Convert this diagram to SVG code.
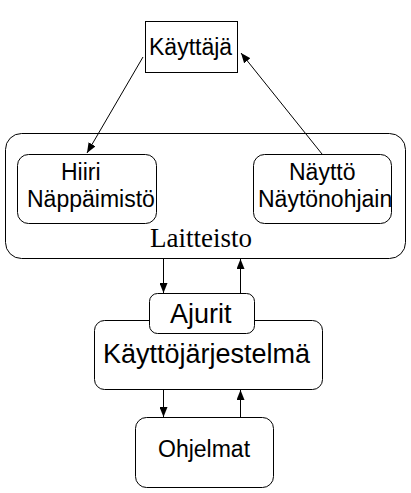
<svg xmlns="http://www.w3.org/2000/svg" width="411" height="493" viewBox="0 0 411 493">
<defs>
<style>
.box{fill:#fff;stroke:#000;stroke-width:1}
.t{font-family:"Liberation Sans",Arial,sans-serif;font-size:23px;fill:#000}
.big{font-size:27px}
.serif{font-family:"Liberation Serif","Times New Roman",serif;font-size:27px;fill:#000}
.edge{stroke:#000;stroke-width:1;fill:none;marker-end:url(#ah)}
</style>
<marker id="ah" viewBox="0 0 10 8" refX="10" refY="4" markerWidth="10" markerHeight="8" markerUnits="userSpaceOnUse" orient="auto">
<path d="M0,0 L10,4 L0,8 Z" fill="#000"/>
</marker>
</defs>
<rect width="411" height="493" fill="#fff"/>
<g id="laitteisto">
<rect class="box" x="5.5" y="133.5" width="400" height="125" rx="16"/>
<text class="serif" x="150" y="247">Laitteisto</text>
</g>
<g id="kayttaja">
<rect class="box" x="145.5" y="21.5" width="92" height="51"/>
<text class="t" x="149" y="55">Käyttäjä</text>
</g>
<g id="hiiri">
<rect class="box" x="17.5" y="154.5" width="139" height="69" rx="11"/>
<text class="t" x="61" y="180">Hiiri</text>
<text class="t" x="27" y="207">Näppäimistö</text>
</g>
<g id="naytto">
<rect class="box" x="253.5" y="154.5" width="138" height="69" rx="11"/>
<text class="t" x="289" y="180">Näyttö</text>
<text class="t" x="258" y="207">Näytönohjain</text>
</g>
<g id="kayttojarjestelma">
<rect class="box" x="94.5" y="320.5" width="228" height="69" rx="10"/>
<text class="t big" x="103" y="363">Käyttöjärjestelmä</text>
</g>
<g id="ajurit">
<rect class="box" x="149.5" y="293.5" width="105" height="40" rx="8"/>
<text class="t big" x="170" y="323">Ajurit</text>
</g>
<g id="ohjelmat">
<rect class="box" x="135.5" y="417.5" width="138" height="70" rx="11"/>
<text class="t" x="158" y="457">Ohjelmat</text>
</g>
<g id="connectors">
<line class="edge" x1="143" y1="57" x2="87" y2="153"/>
<line class="edge" x1="322" y1="154" x2="241" y2="53"/>
<line class="edge" x1="163.5" y1="258" x2="163.5" y2="293"/>
<line class="edge" x1="240.5" y1="293" x2="240.5" y2="259"/>
<line class="edge" x1="163.5" y1="389" x2="163.5" y2="417"/>
<line class="edge" x1="240.5" y1="417" x2="240.5" y2="390"/>
</g>
</svg>
